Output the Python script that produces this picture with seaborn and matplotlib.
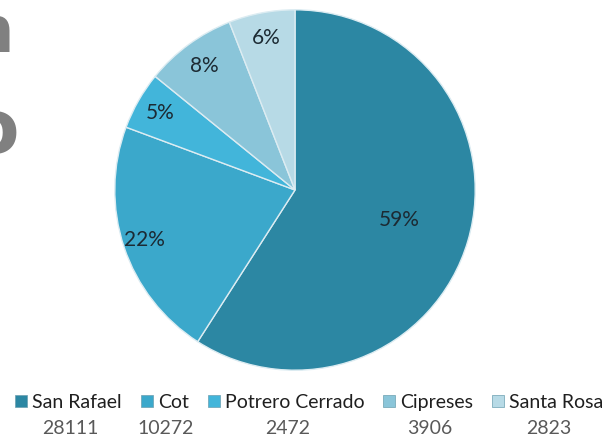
import numpy as np
import matplotlib
matplotlib.use('Agg')
import matplotlib.pyplot as plt
import seaborn as sns
from matplotlib.lines import Line2D

sns.set_theme(style='white')
plt.rcParams['font.family'] = ['Lato', 'DejaVu Sans']

# Data
sectors = ['San Rafael', 'Cot', 'Potrero Cerrado', 'Cipreses', 'Santa Rosa']
values = [28111, 10272, 2472, 3906, 2823]
colors = ['#2C87A3', '#3BA8CB', '#42B5DA', '#8AC5D9', '#B7DAE6']
label_dist = [0.6, 0.88, 0.86, 0.85, 0.86]

fig = plt.figure(figsize=(6.12, 4.4), dpi=100)
fig.patch.set_facecolor('white')

# pie axes: centre ~ (295, 190) px, radius ~ 182 px
W, H = 612, 440
cx, cy, r = 295, 190, 182
ax = fig.add_axes([(cx - r) / W, (H - cy - r) / H, 2 * r / W, 2 * r / H])

wedges, texts, autotexts = ax.pie(
    values, colors=colors, startangle=90, counterclock=False,
    autopct='%1.0f%%', pctdistance=0.86,
    wedgeprops=dict(edgecolor='#dcecf2', linewidth=1.0),
    textprops=dict(fontsize=15, color='#1c2a33'))
ax.set_xlim(-1.01, 1.01)
ax.set_ylim(-1.01, 1.01)
for w in wedges:
    w.set_clip_on(False)

# move labels to their own radial distance (as in the original chart)
for w, t, d in zip(wedges, autotexts, label_dist):
    ang = np.deg2rad((w.theta1 + w.theta2) / 2)
    t.set_position((d * np.cos(ang), d * np.sin(ang)))

# cropped grey letters at left edge
fig.text(14 / W, 1 - 52 / H, 'n', ha='right', va='baseline', fontsize=46,
         fontweight='bold', color='#808080', family='DejaVu Sans')
fig.text(19 / W, 1 - 153 / H, 'o', ha='right', va='baseline', fontsize=54,
         fontweight='bold', color='#808080', family='DejaVu Sans')

# legend with values below
handles = [Line2D([0], [0], marker='s', linestyle='', markersize=9,
                  markerfacecolor=c, markeredgecolor='#6a9fb0', markeredgewidth=0.5)
           for c in colors]
leg = fig.legend(handles, sectors, loc='center', bbox_to_anchor=(309 / W, 1 - 402 / H),
                 ncol=5, frameon=False, handlelength=0.7, handletextpad=0.2,
                 columnspacing=0.95, fontsize=14, labelcolor='#1f1f1f')

fig.canvas.draw()
renderer = fig.canvas.get_renderer()
inv = fig.transFigure.inverted()
for h, t, v in zip(leg.legend_handles, leg.get_texts(), values):
    tb = t.get_window_extent(renderer)
    x0 = tb.x0 - 14
    xm = (x0 + tb.x1) / 2
    fx, _ = inv.transform((xm, 0))
    fig.text(fx, 1 - 428 / H, str(v), ha='center', va='center', fontsize=14,
             color='#595959')

fig.savefig('out.png', dpi=100, facecolor='white')
